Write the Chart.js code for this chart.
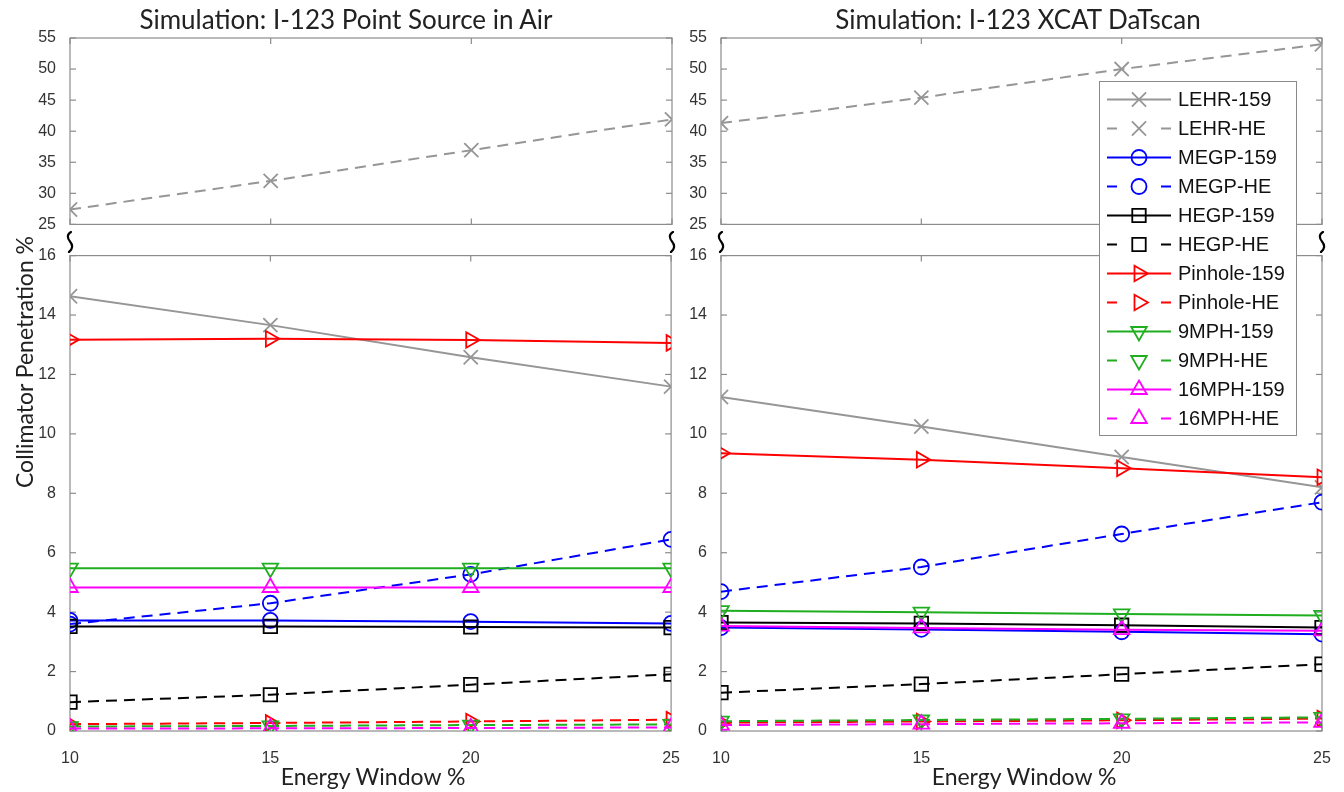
<!DOCTYPE html>
<html>
<head>
<meta charset="utf-8">
<script src="https://cdn.jsdelivr.net/npm/chart.js@4.4.1/dist/chart.umd.min.js"></script>
<style>
  body { margin: 0; background: #fff; width: 1344px; height: 792px; position: relative; overflow: hidden; }
  .panel { position: absolute; }
  .txt { position: absolute; white-space: nowrap; font-family: Lato, 'Open Sans', sans-serif; color: #222; }
  .title { font-size: 26px; transform: translate(-50%, -50%); }
  .xtitle { font-size: 23px; transform: translate(-50%, -50%); }
  .ytitle { font-size: 23px; transform: translate(-50%, -50%) rotate(-90deg); }
  .brk { position: absolute; width: 8px; height: 22px; transform: translate(-50%, -50%); }
  #legend { position: absolute; left: 1099px; top: 81px; width: 196px; height: 350px; border: 1px solid #8a8a8a; background: #fff; padding-top: 3px; box-sizing: content-box; }
  .row { height: 29px; display: flex; align-items: center; }
  .row span { font-family: 'Liberation Sans', Arial, sans-serif; font-size: 20px; color: #111; margin-left: 6px; }
</style>
</head>
<body>
<div class="panel" style="left:0;top:0;width:690px;height:240px"><canvas id="airTop" width="690" height="240"></canvas></div>
<div class="panel" style="left:0;top:240px;width:690px;height:552px"><canvas id="airBot" width="690" height="552"></canvas></div>
<div class="panel" style="left:690px;top:0;width:654px;height:240px"><canvas id="xcatTop" width="654" height="240"></canvas></div>
<div class="panel" style="left:690px;top:240px;width:654px;height:552px"><canvas id="xcatBot" width="654" height="552"></canvas></div>

<div class="txt title" style="left:346px;top:19px">Simulation: I-123 Point Source in Air</div>
<div class="txt title" style="left:1018px;top:19px">Simulation: I-123 XCAT DaTscan</div>
<div class="txt ytitle" style="left:24px;top:362px">Collimator Penetration %</div>
<div class="txt xtitle" style="left:373px;top:776px">Energy Window %</div>
<div class="txt xtitle" style="left:1024px;top:776px">Energy Window %</div>
<div id="breaks"></div>
<div id="legend"></div>

<script>
// energy window (%) on the x axis
const energyWindow = [10, 15, 20, 25];
const yTicksTop = [25, 30, 35, 40, 45, 50, 55];
const yTicksBottom = [0, 2, 4, 6, 8, 10, 12, 14, 16];

const seriesNames = ['LEHR-159', 'LEHR-HE', 'MEGP-159', 'MEGP-HE', 'HEGP-159', 'HEGP-HE',
  'Pinhole-159', 'Pinhole-HE', '9MPH-159', '9MPH-HE', '16MPH-159', '16MPH-HE'];

// point source in air
const airLEHR159 = [14.63, 13.66, 12.58, 11.59];
const airLEHRHE = [27.4, 32.0, 36.95, 41.9];
const airMEGP159 = [3.72, 3.72, 3.68, 3.62];
const airMEGPHE = [3.6, 4.3, 5.27, 6.45];
const airHEGP159 = [3.52, 3.52, 3.5, 3.48];
const airHEGPHE = [0.97, 1.22, 1.56, 1.91];
const airPinhole159 = [13.17, 13.2, 13.16, 13.06];
const airPinholeHE = [0.23, 0.27, 0.32, 0.38];
const air9MPH159 = [5.48, 5.48, 5.48, 5.48];
const air9MPHHE = [0.15, 0.17, 0.2, 0.22];
const air16MPH159 = [4.83, 4.83, 4.83, 4.83];
const air16MPHHE = [0.08, 0.09, 0.1, 0.12];

// XCAT DaTscan
const xcatLEHR159 = [11.24, 10.25, 9.22, 8.2];
const xcatLEHRHE = [41.3, 45.4, 50.0, 54.0];
const xcatMEGP159 = [3.48, 3.42, 3.34, 3.26];
const xcatMEGPHE = [4.69, 5.52, 6.63, 7.7];
const xcatHEGP159 = [3.65, 3.62, 3.56, 3.48];
const xcatHEGPHE = [1.29, 1.58, 1.91, 2.25];
const xcatPinhole159 = [9.35, 9.13, 8.84, 8.54];
const xcatPinholeHE = [0.28, 0.32, 0.36, 0.42];
const xcat9MPH159 = [4.05, 4.0, 3.94, 3.89];
const xcat9MPHHE = [0.33, 0.37, 0.41, 0.46];
const xcat16MPH159 = [3.53, 3.47, 3.41, 3.37];
const xcat16MPHHE = [0.2, 0.23, 0.26, 0.29];

const airValues = [airLEHR159, airLEHRHE, airMEGP159, airMEGPHE, airHEGP159, airHEGPHE,
  airPinhole159, airPinholeHE, air9MPH159, air9MPHHE, air16MPH159, air16MPHHE];
const xcatValues = [xcatLEHR159, xcatLEHRHE, xcatMEGP159, xcatMEGPHE, xcatHEGP159, xcatHEGPHE,
  xcatPinhole159, xcatPinholeHE, xcat9MPH159, xcat9MPHHE, xcat16MPH159, xcat16MPHHE];

// matlab-like styles: colour, marker, dashed or not
const GRAY = '#969696', GREEN = '#1fae1f';
const styles = [
  { color: GRAY, marker: 'crossRot', r: 10, rot: 0, dashed: false },
  { color: GRAY, marker: 'crossRot', r: 10, rot: 0, dashed: true },
  { color: '#0000ff', marker: 'circle', r: 7.5, rot: 0, dashed: false },
  { color: '#0000ff', marker: 'circle', r: 7.5, rot: 0, dashed: true },
  { color: '#000000', marker: 'rect', r: 9.5, rot: 0, dashed: false },
  { color: '#000000', marker: 'rect', r: 9.5, rot: 0, dashed: true },
  { color: '#ff0000', marker: 'triangle', r: 9, rot: 90, dashed: false },
  { color: '#ff0000', marker: 'triangle', r: 9, rot: 90, dashed: true },
  { color: GREEN, marker: 'triangle', r: 9, rot: 180, dashed: false },
  { color: GREEN, marker: 'triangle', r: 9, rot: 180, dashed: true },
  { color: '#ff00ff', marker: 'triangle', r: 9, rot: 0, dashed: false },
  { color: '#ff00ff', marker: 'triangle', r: 9, rot: 0, dashed: true }
];
const DASH = [11, 7];
const tickFont = { family: "'Liberation Sans', Arial, sans-serif", size: 16 };
const tickColor = '#333';
const PLOT_BOTTOM = 491; // bottom of the lower plot inside its canvas

// box round the plot area + matlab style inward ticks
const frameTicks = {
  id: 'frameTicks',
  beforeDatasetsDraw(chart, args, opts) {
    const { ctx, chartArea: a, scales } = chart;
    const seg = (x1, y1, x2, y2) => { ctx.beginPath(); ctx.moveTo(x1, y1); ctx.lineTo(x2, y2); ctx.stroke(); };
    ctx.save();
    ctx.strokeStyle = '#8c8c8c';
    ctx.lineWidth = 1.2;
    ctx.strokeRect(a.left, a.top, a.right - a.left, a.bottom - a.top);
    const t = 6;
    opts.yTicks.forEach(v => {
      const y = scales.y.getPixelForValue(v);
      seg(a.left, y, a.left + t, y);
      seg(a.right - t, y, a.right, y);
    });
    energyWindow.forEach(v => {
      const x = scales.x.getPixelForValue(v);
      seg(x, a.bottom, x, a.bottom - t);
      seg(x, a.top, x, a.top + t);
    });
    ctx.restore();
  }
};

function makeDatasets(values) {
  return seriesNames.map((name, i) => ({
    label: name,
    data: energyWindow.map((x, j) => ({ x: x, y: values[i][j] })),
    borderColor: styles[i].color,
    borderWidth: 2,
    borderDash: styles[i].dashed ? DASH : [],
    pointStyle: styles[i].marker,
    pointRadius: styles[i].r,
    pointRotation: styles[i].rot,
    pointBorderColor: styles[i].color,
    pointBackgroundColor: 'rgba(0,0,0,0)',
    pointBorderWidth: 1.8,
    tension: 0,
    fill: false,
    order: seriesNames.length - i
  }));
}

function makePanel(id, values, isTop, yWidth, padRight) {
  const yTicks = isTop ? yTicksTop : yTicksBottom;
  const chart = new Chart(document.getElementById(id), {
    type: 'line',
    data: { datasets: makeDatasets(values) },
    options: {
      responsive: false,
      animation: false,
      layout: {
        autoPadding: false,
        padding: isTop ? { top: 38, bottom: 15, left: 0, right: padRight } : { top: 14, bottom: 8, left: 0, right: padRight }
      },
      plugins: {
        legend: { display: false },
        tooltip: { enabled: false },
        frameTicks: { yTicks: yTicks }
      },
      scales: {
        x: {
          type: 'linear',
          display: !isTop,
          min: 10,
          max: 25,
          afterBuildTicks: s => { s.ticks = energyWindow.map(v => ({ value: v })); },
          afterFit: s => { if (isTop) s.height = 0; },
          grid: { display: false },
          border: { display: false },
          ticks: { font: tickFont, color: tickColor, padding: 10, maxRotation: 0, autoSkip: false }
        },
        y: {
          type: 'linear',
          min: yTicks[0],
          max: yTicks[yTicks.length - 1],
          afterBuildTicks: s => { s.ticks = yTicks.map(v => ({ value: v })); },
          afterFit: s => { s.width = yWidth; },
          grid: { display: false },
          border: { display: false },
          ticks: { font: tickFont, color: tickColor, padding: 6, autoSkip: false }
        }
      }
    },
    plugins: [frameTicks]
  });
  if (!isTop) {
    // nudge the bottom padding so the plot ends where the picture's does
    const diff = PLOT_BOTTOM - chart.chartArea.bottom;
    if (Math.abs(diff) > 0.5) {
      chart.options.layout.padding.bottom -= diff;
      chart.update();
    }
  }
}

makePanel('airTop', airValues, true, 70, 18);
makePanel('airBot', airValues, false, 70, 18);
makePanel('xcatTop', xcatValues, true, 31, 22);
makePanel('xcatBot', xcatValues, false, 31, 22);

// axis break squiggles
const breaks = document.getElementById('breaks');
[70, 672, 721, 1322].forEach(x => {
  breaks.insertAdjacentHTML('beforeend',
    `<svg class="brk" style="left:${x}px;top:242px" viewBox="0 0 8 22"><path d="M5 1 C1 3, 1 7, 4 10.5 C7 14, 7 18, 3 21" fill="none" stroke="#000" stroke-width="2.2" stroke-linecap="round"/></svg>`);
});

// legend box, drawn with chart.js point helper
const legend = document.getElementById('legend');
seriesNames.forEach((name, i) => {
  const row = document.createElement('div');
  row.className = 'row';
  const c = document.createElement('canvas');
  c.width = 72; c.height = 29;
  const ctx = c.getContext('2d');
  const st = styles[i];
  ctx.strokeStyle = st.color;
  ctx.lineWidth = 2;
  ctx.beginPath();
  if (st.dashed) {
    ctx.moveTo(7, 14.5); ctx.lineTo(17, 14.5);
    ctx.moveTo(61, 14.5); ctx.lineTo(71, 14.5);
  } else {
    ctx.moveTo(7, 14.5); ctx.lineTo(71, 14.5);
  }
  ctx.stroke();
  ctx.fillStyle = 'rgba(0,0,0,0)';
  ctx.lineWidth = 1.8;
  Chart.helpers.drawPoint(ctx, { pointStyle: st.marker, radius: st.r, rotation: st.rot, borderWidth: 1.8 }, 39, 14.5);
  const label = document.createElement('span');
  label.textContent = name;
  row.appendChild(c);
  row.appendChild(label);
  legend.appendChild(row);
});
</script>
</body>
</html>
